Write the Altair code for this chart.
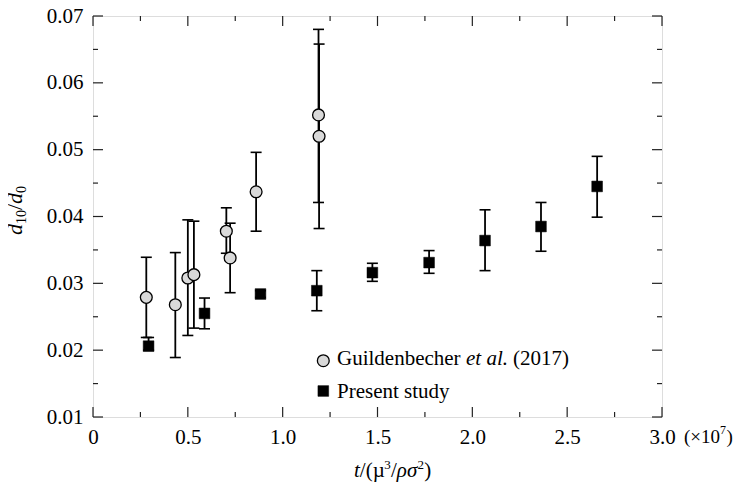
import altair as alt
import pandas as pd

# Guildenbecher et al. (2017)
g_x = [0.281, 0.434, 0.500, 0.532, 0.703, 0.723, 0.860, 1.189, 1.192]
g_y = [0.0279, 0.0268, 0.0308, 0.0313, 0.0378, 0.0338, 0.0437, 0.0552, 0.0520]
g_lo = [0.0219, 0.0189, 0.0222, 0.0233, 0.0345, 0.0286, 0.0378, 0.0421, 0.0382]
g_hi = [0.0339, 0.0346, 0.0395, 0.0393, 0.0413, 0.0390, 0.0496, 0.0680, 0.0658]

# Present study
p_x = [0.293, 0.588, 0.883, 1.180, 1.473, 1.772, 2.067, 2.362, 2.658]
p_y = [0.0206, 0.0255, 0.0284, 0.0289, 0.0316, 0.0331, 0.0364, 0.0385, 0.0445]
p_lo = [0.0200, 0.0232, 0.0279, 0.0259, 0.0303, 0.0315, 0.0319, 0.0348, 0.0399]
p_hi = [0.0219, 0.0278, 0.0289, 0.0319, 0.0330, 0.0349, 0.0410, 0.0421, 0.0490]

x_major = [0, 0.5, 1.0, 1.5, 2.0, 2.5, 3.0]
x_minor = [0.25, 0.75, 1.25, 1.75, 2.25, 2.75]
y_major = [0.01, 0.02, 0.03, 0.04, 0.05, 0.06, 0.07]
y_minor = [0.015, 0.025, 0.035, 0.045, 0.055, 0.065]

W, H = 569, 401
FONT = "Liberation Serif"

gdf = pd.DataFrame({"x": g_x, "y": g_y, "lo": g_lo, "hi": g_hi})
pdf = pd.DataFrame({"x": p_x, "y": p_y, "lo": p_lo, "hi": p_hi})

xs = alt.Scale(domain=[0, 3.0], nice=False, zero=False)
ys = alt.Scale(domain=[0.01, 0.07], nice=False, zero=False)

x_axis = alt.Axis(title=None, domain=False, ticks=False, tickSize=0, grid=False,
                  values=x_major, labelFlush=False, labelOverlap=False,
                  labelExpr="datum.value == 0 ? '0' : format(datum.value, '.1f')",
                  labelFont=FONT, labelFontSize=21, labelColor="black", labelPadding=9)
y_axis = alt.Axis(title=None, domain=False, ticks=False, tickSize=0, grid=False,
                  values=y_major, labelOverlap=False,
                  labelExpr="format(datum.value, '.2f')",
                  labelFont=FONT, labelFontSize=21, labelColor="black", labelPadding=10)


def X(f):
    return alt.X(f, scale=xs, axis=x_axis)


def Y(f):
    return alt.Y(f, scale=ys, axis=y_axis)


def err_layers(df):
    base = alt.Chart(df)
    rule = base.mark_rule(color="black", strokeWidth=1.8).encode(x=X("x:Q"), y=Y("lo:Q"), y2="hi:Q")
    lo = base.mark_tick(color="black", orient="horizontal", size=11, thickness=1.6, opacity=1).encode(x=X("x:Q"), y=Y("lo:Q"))
    hi = base.mark_tick(color="black", orient="horizontal", size=11, thickness=1.6, opacity=1).encode(x=X("x:Q"), y=Y("hi:Q"))
    return [rule, lo, hi]


circles = alt.Chart(gdf).mark_point(shape="circle", filled=True, fill="#d9d9d9", stroke="black",
                                     strokeWidth=1.3, size=140, opacity=1).encode(x=X("x:Q"), y=Y("y:Q"))
squares = alt.Chart(pdf).mark_point(shape="square", filled=True, fill="black", stroke="black",
                                     strokeWidth=0.5, size=115, opacity=1).encode(x=X("x:Q"), y=Y("y:Q"))


def xticks(vals, length):
    d = pd.DataFrame({"v": vals})
    b = alt.Chart(d).mark_rule(color="#222", strokeWidth=1.2).encode(x=X("v:Q"), y=alt.value(H), y2=alt.value(H - length))
    t = alt.Chart(d).mark_rule(color="#222", strokeWidth=1.2).encode(x=X("v:Q"), y=alt.value(0), y2=alt.value(length))
    return [b, t]


def yticks(vals, length):
    d = pd.DataFrame({"v": vals})
    l = alt.Chart(d).mark_rule(color="#222", strokeWidth=1.2).encode(y=Y("v:Q"), x=alt.value(0), x2=alt.value(length))
    r = alt.Chart(d).mark_rule(color="#222", strokeWidth=1.2).encode(y=Y("v:Q"), x=alt.value(W), x2=alt.value(W - length))
    return [l, r]


def label(txt, x, y, size=21, style="normal", angle=0, align="left", baseline="alphabetic"):
    kw = dict(font=FONT, fontSize=size, fontStyle=style, align=align, baseline=baseline, color="black")
    if angle:
        kw["angle"] = angle
    return alt.Chart(pd.DataFrame({"t": [txt]})).mark_text(**kw).encode(
        x=alt.value(x), y=alt.value(y), text="t:N")


texts = []
# x-axis title t/(µ^3/ρσ^2)
bx, by = 261, 461
texts.append(label("t", bx, by, style="italic"))
texts.append(label("/(\u00b5", bx + 5.8, by))
texts.append(label("3", bx + 30.2, by - 8, size=13))
texts.append(label("/", bx + 37.0, by))
texts.append(label("\u03c1\u03c3", bx + 42.8, by, style="italic"))
texts.append(label("2", bx + 63.6, by - 8, size=13))
texts.append(label(")", bx + 70.2, by))

# y-axis title d10/d0 (rotated)
tx, ty = -71, 219
texts.append(label("d", tx, ty, size=22, style="italic", angle=270))
texts.append(label("10", tx + 4, ty - 11, size=14, angle=270))
texts.append(label("/", tx, ty - 25, size=22, angle=270))
texts.append(label("d", tx, ty - 31, size=22, style="italic", angle=270))
texts.append(label("0", tx + 4, ty - 42, size=14, angle=270))

# (x10^7)
ex, ey = 591, 427
texts.append(label("(\u00d710", ex, ey, size=19))
texts.append(label("7", ex + 36, ey - 9, size=12))
texts.append(label(")", ex + 42.5, ey, size=19))

# legend
texts.append(label("Guildenbecher", 244, 349))
texts.append(label("et al.", 373, 349, style="italic"))
texts.append(label("(2017)", 420, 349))
texts.append(label("Present study", 244, 382))

leg_c = alt.Chart(pd.DataFrame({"k": ["g"]})).mark_point(shape="circle", filled=True, fill="#d9d9d9",
                                                         stroke="black", strokeWidth=1.3, size=140,
                                                         opacity=1).encode(x=alt.value(230.3), y=alt.value(344.7))
leg_s = alt.Chart(pd.DataFrame({"k": ["p"]})).mark_point(shape="square", filled=True, fill="black",
                                                         stroke="black", strokeWidth=0.5, size=115,
                                                         opacity=1).encode(x=alt.value(230.3), y=alt.value(375))

layers = (err_layers(gdf) + err_layers(pdf) + [circles, squares]
          + xticks(x_major, 10) + xticks(x_minor, 5) + yticks(y_major, 10) + yticks(y_minor, 5)
          + [leg_c, leg_s] + texts)

chart = alt.layer(*layers).properties(
    width=W, height=H,
    autosize=alt.AutoSizeParams(type="none"),
    padding={"left": 85, "top": 8, "right": 71, "bottom": 65},
).configure_view(stroke="black", strokeWidth=1.5).configure(background="white")

chart.save("out.html", embed_options={"renderer": "svg", "actions": False})
